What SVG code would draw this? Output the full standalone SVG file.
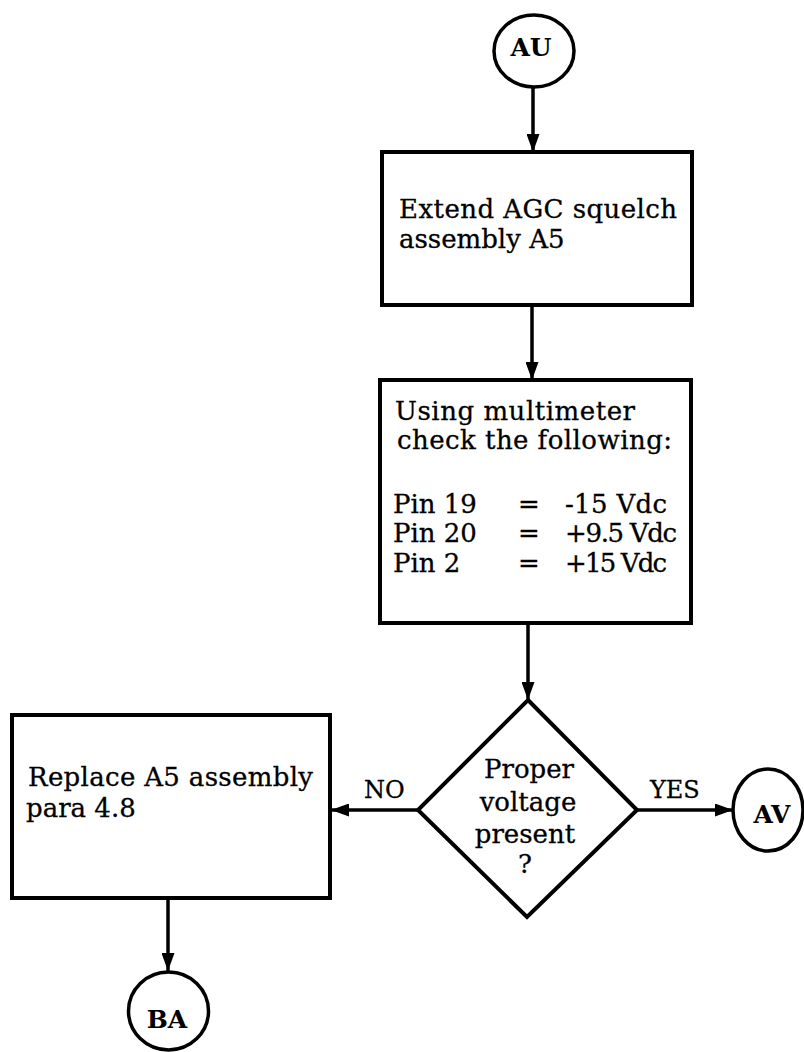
<svg xmlns="http://www.w3.org/2000/svg" width="804" height="1052" viewBox="0 0 804 1052">
<style>
.box{fill:#fff;stroke:#000;stroke-width:4}
.term{fill:#fff;stroke:#000;stroke-width:3.5}
.conn{stroke:#000;stroke-width:3.5;fill:none}
.t{font-family:"DejaVu Serif","Liberation Serif",serif;font-size:26px;fill:#000;stroke:#000;stroke-width:0.3}
.tc{font-family:"DejaVu Serif","Liberation Serif",serif;font-size:25px;fill:#000;font-weight:bold;text-anchor:middle}
.lbl{font-family:"DejaVu Serif","Liberation Serif",serif;font-size:24px;fill:#000;stroke:#000;stroke-width:0.3}
</style>
<defs>
<marker id="arr" markerUnits="userSpaceOnUse" markerWidth="19" markerHeight="13" refX="18" refY="6.5" orient="auto">
<path d="M0,0 L18,6.5 L0,13 Z" fill="#000"/>
</marker>
</defs>
<rect width="804" height="1052" fill="#fff"/>
<g id="connectors">
<line class="conn" x1="533" y1="87" x2="533" y2="152" marker-end="url(#arr)"/>
<line class="conn" x1="532" y1="305" x2="532" y2="380" marker-end="url(#arr)"/>
<line class="conn" x1="528" y1="623" x2="528" y2="700" marker-end="url(#arr)"/>
<line class="conn" x1="418" y1="810" x2="331" y2="810" marker-end="url(#arr)"/>
<line class="conn" x1="637" y1="810" x2="733" y2="810" marker-end="url(#arr)"/>
<line class="conn" x1="168" y1="898" x2="168" y2="971" marker-end="url(#arr)"/>
<text class="lbl" x="364" y="798">NO</text>
<text class="lbl" x="650" y="798">YES</text>
</g>
<g id="AU">
<ellipse class="term" cx="534" cy="51" rx="40" ry="36"/>
<text class="tc" x="531" y="56">AU</text>
</g>
<g id="extend">
<rect class="box" x="382" y="152" width="310" height="153"/>
<text class="t" x="399" y="218" textLength="278">Extend AGC squelch</text>
<text class="t" x="399" y="248">assembly A5</text>
</g>
<g id="check">
<rect class="box" x="380" y="380" width="311" height="243"/>
<text class="t" x="395" y="420" textLength="240">Using multimeter</text>
<text class="t" x="397" y="449" textLength="275">check the following:</text>
<text class="t" x="393" y="513">Pin 19</text>
<text class="t" x="393" y="542">Pin 20</text>
<text class="t" x="393" y="572">Pin 2</text>
<text class="t" x="518" y="513">=</text>
<text class="t" x="518" y="542">=</text>
<text class="t" x="518" y="572">=</text>
<text class="t" x="565" y="513" textLength="102">-15 Vdc</text>
<text class="t" x="565" y="542" textLength="112">+9.5 Vdc</text>
<text class="t" x="565" y="572" textLength="102">+15 Vdc</text>
</g>
<g id="decision">
<polygon class="box" points="528,700 637,810 527,917 418,810"/>
<text class="t" x="529" y="778" text-anchor="middle">Proper</text>
<text class="t" x="528" y="811" text-anchor="middle">voltage</text>
<text class="t" x="525" y="843" text-anchor="middle">present</text>
<text class="t" x="525" y="873" text-anchor="middle">?</text>
</g>
<g id="AV">
<ellipse class="term" cx="768" cy="810" rx="35" ry="41"/>
<text class="tc" x="772" y="823">AV</text>
</g>
<g id="replace">
<rect class="box" x="12" y="715" width="318" height="183"/>
<text class="t" x="28" y="786" textLength="285">Replace A5 assembly</text>
<text class="t" x="26" y="817">para 4.8</text>
</g>
<g id="BA">
<ellipse class="term" cx="168.5" cy="1011" rx="40" ry="39"/>
<text class="tc" x="167" y="1028">BA</text>
</g>
</svg>
